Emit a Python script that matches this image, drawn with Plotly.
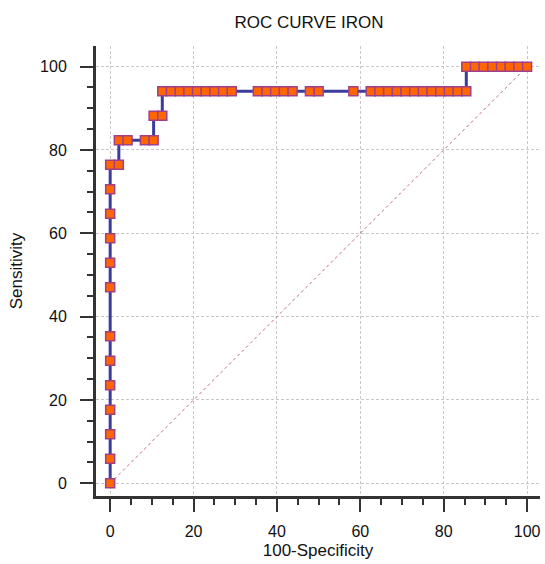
import plotly.graph_objects as go

# ROC points (100-Specificity, Sensitivity)
fpr = [0, 0, 0, 0, 0, 0, 0, 0, 0, 0, 0, 0, 0,
       2.08, 2.08, 4.17, 8.33, 10.42, 10.42, 12.5, 12.5,
       14.58, 16.67, 18.75, 20.83, 22.92, 25.0, 27.08, 29.17,
       35.42, 37.5, 39.58, 41.67, 43.75,
       47.92, 50.0, 58.33,
       62.5, 64.58, 66.67, 68.75, 70.83, 72.92, 75.0, 77.08, 79.17, 81.25, 83.33, 85.42,
       85.42, 87.5, 89.58, 91.67, 93.75, 95.83, 97.92, 100.0]
sens = [0, 5.88, 11.76, 17.65, 23.53, 29.41, 35.29, 47.06, 52.94, 58.82, 64.71, 70.59, 76.47,
        76.47, 82.35, 82.35, 82.35, 82.35, 88.24, 88.24, 94.12,
        94.12, 94.12, 94.12, 94.12, 94.12, 94.12, 94.12, 94.12,
        94.12, 94.12, 94.12, 94.12, 94.12,
        94.12, 94.12, 94.12,
        94.12, 94.12, 94.12, 94.12, 94.12, 94.12, 94.12, 94.12, 94.12, 94.12, 94.12, 94.12,
        100, 100, 100, 100, 100, 100, 100, 100]
diag = [0, 100]
tick_vals = [0, 20, 40, 60, 80, 100]

FONT = "Liberation Sans, Arial, sans-serif"

fig = go.Figure()
fig.add_trace(go.Scatter(x=diag, y=diag, mode="lines",
                         line=dict(color="#c06c6c", width=1, dash="dot"),
                         hoverinfo="skip", showlegend=False))
fig.add_trace(go.Scatter(x=fpr, y=sens, mode="lines+markers",
                         line=dict(color="#3c3c9c", width=3),
                         marker=dict(symbol="square", size=9, color="#ff6600",
                                     line=dict(color="#a0408a", width=1.5)),
                         showlegend=False))

axis_common = dict(
    tickvals=tick_vals, showline=True, linecolor="#333333", linewidth=3,
    ticks="outside", ticklen=13, tickwidth=2, tickcolor="#333333",
    showgrid=True, gridcolor="#c8c8c8", griddash="3px,2px", gridwidth=1,
    zeroline=False, tickfont=dict(family=FONT, size=16, color="#111111"),
    minor=dict(dtick=5, ticks="outside", ticklen=6, tickwidth=1.5,
               tickcolor="#333333", showgrid=False),
    mirror=False,
)

W, H = 545, 564

fig.update_layout(
    width=W, height=H,
    margin=dict(l=96, r=5, t=46, b=68, autoexpand=False),
    paper_bgcolor="white", plot_bgcolor="white",
    font=dict(family=FONT, color="#111111"),
    title=dict(text="ROC CURVE IRON", x=309 / W, xref="container", xanchor="center",
               y=1 - 22 / H, yref="container", yanchor="middle",
               font=dict(family=FONT, size=17, color="#111111")),
    xaxis=dict(range=[-3.4, 103.1], ticklabelstandoff=6, automargin=False,
               title=dict(text="100-Specificity", font=dict(family=FONT, size=17), standoff=5),
               **axis_common),
    yaxis=dict(range=[-3.05, 104.95], ticklabelstandoff=10, automargin=False,
               title=dict(text="Sensitivity", font=dict(family=FONT, size=17), standoff=14),
               **axis_common),
)

fig.write_html("out.html", config={"displayModeBar": False},
               post_script="document.body.style.margin='0';document.body.style.overflow='hidden';")
